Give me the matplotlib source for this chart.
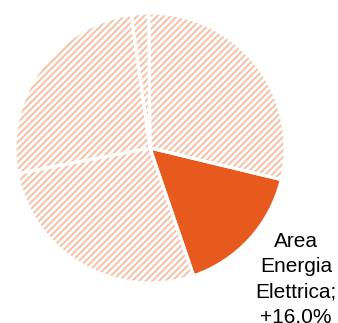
import matplotlib.pyplot as plt

plt.rcParams["font.family"] = ["Liberation Sans", "DejaVu Sans"]
plt.rcParams["hatch.linewidth"] = 1.4

# shares of each area, clockwise from twelve o'clock
shares = [28.9, 16.0, 27.2, 25.8, 2.1]
growth_labels = ["", "Area\nEnergia\nElettrica;\n+16.0%", "", "", ""]
highlight = 1

ORANGE = "#E8591E"
HATCH = "#F7BFA5"

fig = plt.figure(figsize=(3.38, 3.23), dpi=100)
ax = fig.add_axes([15 / 338, 40 / 323, 270 / 338, 270 / 323])

# hatched layer
wedges, _ = ax.pie(shares, startangle=90.5, counterclock=False, radius=1.0)
for i, w in enumerate(wedges):
    if i == highlight:
        w.set_facecolor(ORANGE)
        w.set_edgecolor(ORANGE)
        w.set_linewidth(0)
    else:
        w.set_facecolor("white")
        w.set_edgecolor(HATCH)
        w.set_hatch("/////")
        w.set_linewidth(0)

# white separators on top
sep, _ = ax.pie(shares, startangle=90.5, counterclock=False, radius=1.0,
                wedgeprops=dict(facecolor="none", edgecolor="white", linewidth=2.2))

ax.set_xlim(-1, 1)
ax.set_ylim(-1, 1)
ax.set_aspect("equal")
ax.axis("off")

fig.text(296 / 338, 1 - 232 / 323, growth_labels[highlight], ha="center", va="top",
         fontsize=15, linespacing=1.42, color="black")

fig.savefig("out.png", dpi=100)
